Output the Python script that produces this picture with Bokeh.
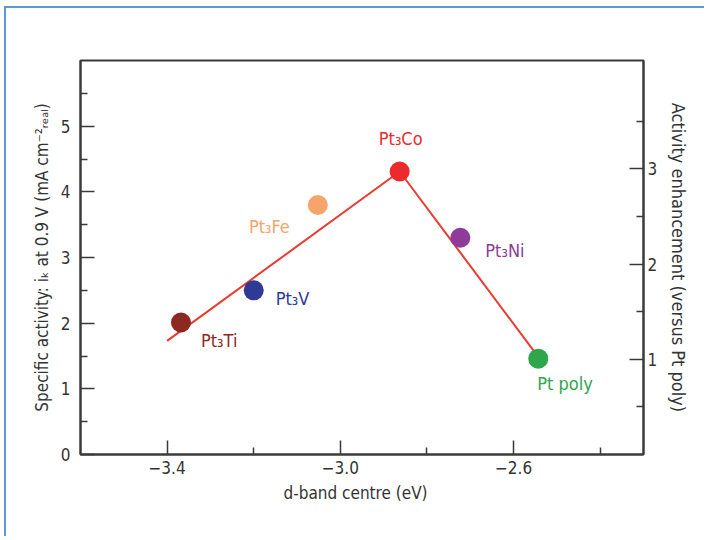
from bokeh.plotting import figure
from bokeh.models import (ColumnDataSource, LinearAxis, Range1d, FixedTicker, Title)
from bokeh.core.properties import value
from bokeh.embed import file_html
from bokeh.resources import INLINE

# ---- data ----
names = ["Pt₃Ti", "Pt₃V", "Pt₃Fe", "Pt₃Co", "Pt₃Ni", "Pt poly"]
d_band = [-3.368, -3.200, -3.052, -2.863, -2.723, -2.543]
activity = [2.01, 2.50, 3.80, 4.31, 3.30, 1.46]
colors = ["#8c2a22", "#2e3a96", "#f5a46c", "#ec2a2e", "#8e3b9b", "#2fa54c"]

trend_x = [-3.40, -2.863, -2.540]
trend_y = [1.73, 4.31, 1.46]

x_major = [-3.4, -3.0, -2.6]
x_minor = [-3.2, -2.8, -2.4]
x_labels = ["−3.4", "−3.0", "−2.6"]
y_major = [0, 1, 2, 3, 4, 5]
y_minor = [0.5, 1.5, 2.5, 3.5, 4.5, 5.5]
r_major = [1, 2, 3]
r_minor = [0.5, 1.5, 2.5, 3.5]
enhancement_ratio = 1.45  # Pt poly activity -> enhancement = 1

# ---- label layout (styles) ----
lab_align = ["left", "left", "right", "center", "left", "left"]
lab_dx = [20, 22, -28, 1, 25, -1]
lab_dy = [18, 8, 22, -33, 13, 25]

FONT = "DejaVu Sans Condensed"
AX = "#3a3a3a"

p = figure(width=700, height=530, output_backend="svg", toolbar_location=None,
           x_range=Range1d(-3.6, -2.3), y_range=Range1d(0, 6),
           min_border_left=74, min_border_right=63, min_border_top=52,
           min_border_bottom=84)
p.grid.visible = False
p.outline_line_color = AX
p.outline_line_width = 2
p.background_fill_color = "white"
p.border_fill_color = "white"
p.styles = {"border-top": "2px solid #5b9bd5", "border-left": "2px solid #5b9bd5",
            "margin-left": "4px", "margin-top": "6px"}

p.extra_y_ranges = {"enh": Range1d(0, 6 / enhancement_ratio)}

def style_axis(ax, label_size):
    ax.axis_line_color = AX
    ax.axis_line_width = 2
    ax.major_tick_line_color = AX
    ax.minor_tick_line_color = AX
    ax.major_tick_line_width = 1.5
    ax.minor_tick_line_width = 1.5
    ax.major_tick_in = 14
    ax.major_tick_out = 0
    ax.minor_tick_in = 7
    ax.minor_tick_out = 0
    ax.major_label_text_font = FONT
    ax.major_label_text_font_size = "17px"
    ax.major_label_text_color = "#333333"
    ax.axis_label_text_font = FONT
    ax.axis_label_text_font_size = label_size
    ax.axis_label_text_font_style = "normal"
    ax.axis_label_text_color = "#333333"

xa = p.xaxis[0]
style_axis(xa, "17px")
xa.ticker = FixedTicker(ticks=x_major, minor_ticks=x_minor)
xa.major_label_overrides = {t: s for t, s in zip(x_major, x_labels)}
xa.major_label_standoff = 6
xa.axis_label = None

ya = p.yaxis[0]
style_axis(ya, "17px")
ya.ticker = FixedTicker(ticks=y_major, minor_ticks=y_minor)
ya.major_label_standoff = 10
ya.axis_label = "Specific activity: iₖ at 0.9 V (mA cm⁻²ᵣₑₐₗ)"
ya.axis_label_standoff = 6

ra = LinearAxis(y_range_name="enh")
style_axis(ra, "18px")
ra.ticker = FixedTicker(ticks=r_major, minor_ticks=r_minor)
ra.major_label_standoff = 4
ra.axis_label = "Activity enhancement (versus Pt poly)"
ra.axis_label_standoff = 8
p.add_layout(ra, "right")

# x axis title
xt = Title(text="d-band centre (eV)", align="left", offset=203, standoff=8,
           text_font=FONT, text_font_size="17px", text_font_style="normal",
           text_color="#333333")
p.add_layout(xt, "below")

src = ColumnDataSource(dict(x=d_band, y=activity, c=colors, name=names,
                            align=lab_align, dx=lab_dx, dy=lab_dy))

p.line(trend_x, trend_y, line_color="#ec3a30", line_width=2)
p.scatter("x", "y", source=src, size=20, fill_color="c", line_color=None)
p.text("x", "y", text="name", source=src, text_color="c", text_align="align",
       text_baseline="middle", x_offset="dx", y_offset="dy",
       text_font=value(FONT), text_font_size="18px")

open("out.html", "w").write(file_html(p, INLINE))
